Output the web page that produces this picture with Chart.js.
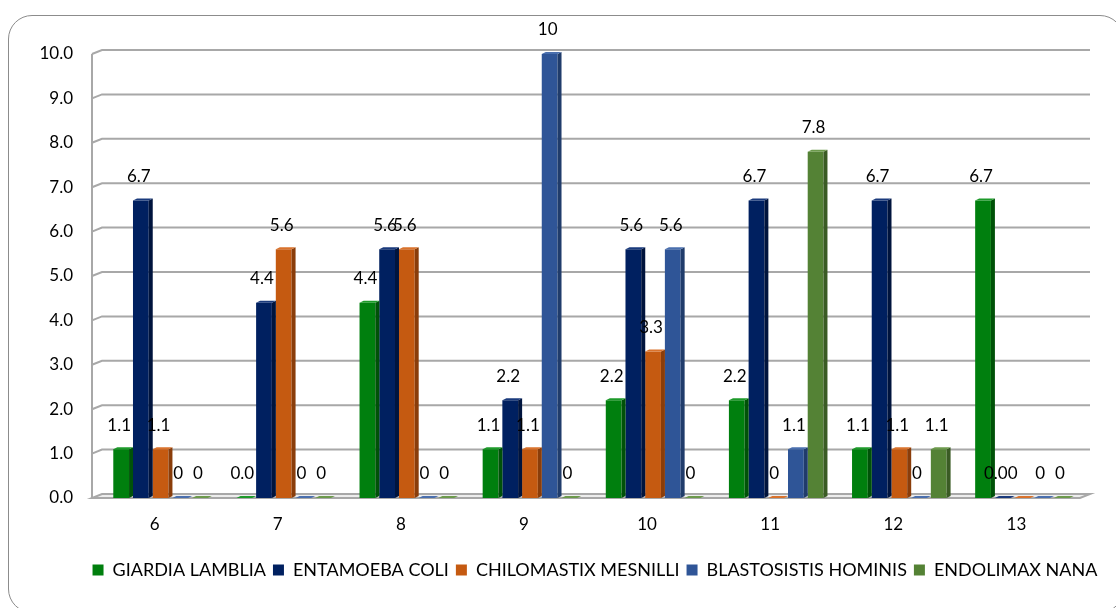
<!DOCTYPE html>
<html>
<head>
<meta charset="utf-8">
<script src="https://cdn.jsdelivr.net/npm/chart.js@4.4.1/dist/chart.umd.min.js"></script>
<style>
  html, body { margin: 0; padding: 0; background: #fff; overflow: hidden; width: 1116px; height: 608px; }
  #frame {
    position: absolute; left: 8px; top: 15px; width: 1116px; height: 598px;
    border: 1.5px solid #8c8c8c; border-radius: 24px; box-sizing: border-box;
  }
  #wrap { position: absolute; left: 0; top: 0; width: 1190px; height: 608px; }
</style>
</head>
<body>
<div id="frame"></div>
<div id="wrap"><canvas id="chart" width="1190" height="608"></canvas></div>
<script>
// Age groups (years)
const categories = ['6', '7', '8', '9', '10', '11', '12', '13'];

// Prevalence (%) per parasite and age
const giardia      = [1.1, 0,   4.4, 1.1, 2.2, 2.2, 1.1, 6.7];
const entamoeba    = [6.7, 4.4, 5.6, 2.2, 5.6, 6.7, 6.7, 0];
const chilomastix  = [1.1, 5.6, 5.6, 1.1, 3.3, 0,   1.1, 0];
const blastocystis = [0,   0,   0,   10,  5.6, 1.1, 0,   0];
const endolimax    = [0,   0,   0,   0,   0,   7.8, 1.1, 0];

// Value labels as printed above each bar
const giardiaText      = ['1.1', '0.0', '4.4', '1.1', '2.2', '2.2', '1.1', '6.7'];
const entamoebaText    = ['6.7', '4.4', '5.6', '2.2', '5.6', '6.7', '6.7', '0.00'];
const chilomastixText  = ['1.1', '5.6', '5.6', '1.1', '3.3', '0',   '1.1', ''];
const blastocystisText = ['0',   '0',   '0',   '10',  '5.6', '1.1', '0',   '0'];
const endolimaxText    = ['0',   '0',   '0',   '0',   '0',   '7.8', '1.1', '0'];

const seriesNames = ['GIARDIA LAMBLIA', 'ENTAMOEBA COLI', 'CHILOMASTIX MESNILLI', 'BLASTOSISTIS HOMINIS', 'ENDOLIMAX NANA'];

const FONT = 'Lato, "Open Sans", sans-serif';
const GRID = '#a8a8a8';

const faceColors = ['#007f0e', '#002060', '#c55a11', '#2f5597', '#548235'];
const sideColors = ['#005208', '#00143d', '#8a3d0a', '#203c6b', '#3a5b24'];
const topColors  = ['#1d9a2a', '#1a3a7c', '#d9722c', '#4a6fae', '#6c9a4c'];
const labelTexts = [giardiaText, entamoebaText, chilomastixText, blastocystisText, endolimaxText];

// Back wall, left wall and floor drawn with a shallow oblique depth
const DX = 10, DY = 4;
const wallPlugin = {
  id: 'walls',
  beforeDatasetsDraw(chart) {
    const { ctx, chartArea: a, scales: { y } } = chart;
    const x0 = a.left - 7;
    const xr = a.right + 6;
    ctx.save();
    ctx.strokeStyle = GRID;
    ctx.lineWidth = 2;
    // floor
    const yb = y.getPixelForValue(0);
    ctx.fillStyle = '#ededed';
    ctx.beginPath();
    ctx.moveTo(x0, yb);
    ctx.lineTo(xr - DX, yb);
    ctx.lineTo(xr, yb - DY);
    ctx.lineTo(x0 + DX, yb - DY);
    ctx.closePath();
    ctx.fill();
    ctx.stroke();
    // horizontal gridlines on left and back walls
    for (let v = 1; v <= 10; v++) {
      const yy = y.getPixelForValue(v);
      ctx.beginPath();
      ctx.moveTo(x0, yy);
      ctx.lineTo(x0 + DX, yy - DY);
      ctx.lineTo(xr, yy - DY);
      ctx.stroke();
    }
    // left wall edge
    ctx.beginPath();
    ctx.moveTo(x0, y.getPixelForValue(10));
    ctx.lineTo(x0, yb);
    ctx.stroke();
    ctx.restore();
  }
};

// Side and top faces of each bar, plus the value labels
const D = 4, DH = 2;
const barPlugin = {
  id: 'bars3d',
  afterDatasetsDraw(chart) {
    const { ctx } = chart;
    ctx.save();
    chart.data.datasets.forEach((ds, i) => {
      const meta = chart.getDatasetMeta(i);
      meta.data.forEach((bar) => {
        const { x, y, base, width } = bar.getProps(['x', 'y', 'base', 'width'], true);
        const l = x - width / 2, r = x + width / 2;
        ctx.fillStyle = sideColors[i];
        ctx.beginPath();
        ctx.moveTo(r, y);
        ctx.lineTo(r + D, y - DH);
        ctx.lineTo(r + D, base - DH);
        ctx.lineTo(r, base);
        ctx.closePath();
        ctx.fill();
        ctx.fillStyle = topColors[i];
        ctx.beginPath();
        ctx.moveTo(l, y);
        ctx.lineTo(r, y);
        ctx.lineTo(r + D, y - DH);
        ctx.lineTo(l + D, y - DH);
        ctx.closePath();
        ctx.fill();
      });
    });
    ctx.fillStyle = '#000';
    ctx.font = '17px ' + FONT;
    ctx.textAlign = 'center';
    ctx.textBaseline = 'middle';
    chart.data.datasets.forEach((ds, i) => {
      const meta = chart.getDatasetMeta(i);
      meta.data.forEach((bar, j) => {
        const t = labelTexts[i][j];
        if (!t) return;
        const { x, y } = bar.getProps(['x', 'y'], true);
        ctx.fillText(t, x - 2, y - 24);
      });
    });
    ctx.restore();
  }
};

const seriesValues = [giardia, entamoeba, chilomastix, blastocystis, endolimax];

new Chart(document.getElementById('chart'), {
  type: 'bar',
  data: {
    labels: categories,
    datasets: seriesValues.map((vals, i) => ({
      label: seriesNames[i],
      data: vals,
      backgroundColor: faceColors[i],
      borderWidth: 0,
      barPercentage: 0.8,
      categoryPercentage: 0.8
    }))
  },
  options: {
    responsive: false,
    animation: false,
    devicePixelRatio: 1,
    layout: { padding: { left: 0, right: 0, top: 54, bottom: 19 } },
    plugins: {
      tooltip: { enabled: false },
      legend: {
        position: 'bottom',
        labels: {
          font: { family: FONT, size: 18 },
          color: '#000',
          boxWidth: 11,
          boxHeight: 11,
          padding: 7
        }
      }
    },
    scales: {
      x: {
        grid: { display: false },
        border: { display: false },
        ticks: { font: { family: FONT, size: 17 }, color: '#000', padding: 8, labelOffset: -6 },
        afterFit(s) { s.height = 56; }
      },
      y: {
        min: 0, max: 10,
        grid: { display: false },
        border: { display: false },
        ticks: {
          stepSize: 1,
          font: { family: FONT, size: 17 },
          color: '#000',
          padding: 18,
          callback: (v) => Number(v).toFixed(1)
        },
        afterFit(s) { s.width = 99; }
      },
      yRight: {
        position: 'right',
        display: true,
        grid: { display: false },
        border: { display: false },
        ticks: { display: false },
        afterFit(s) { s.width = 106; }
      }
    }
  },
  plugins: [wallPlugin, barPlugin]
});
</script>
</body>
</html>
